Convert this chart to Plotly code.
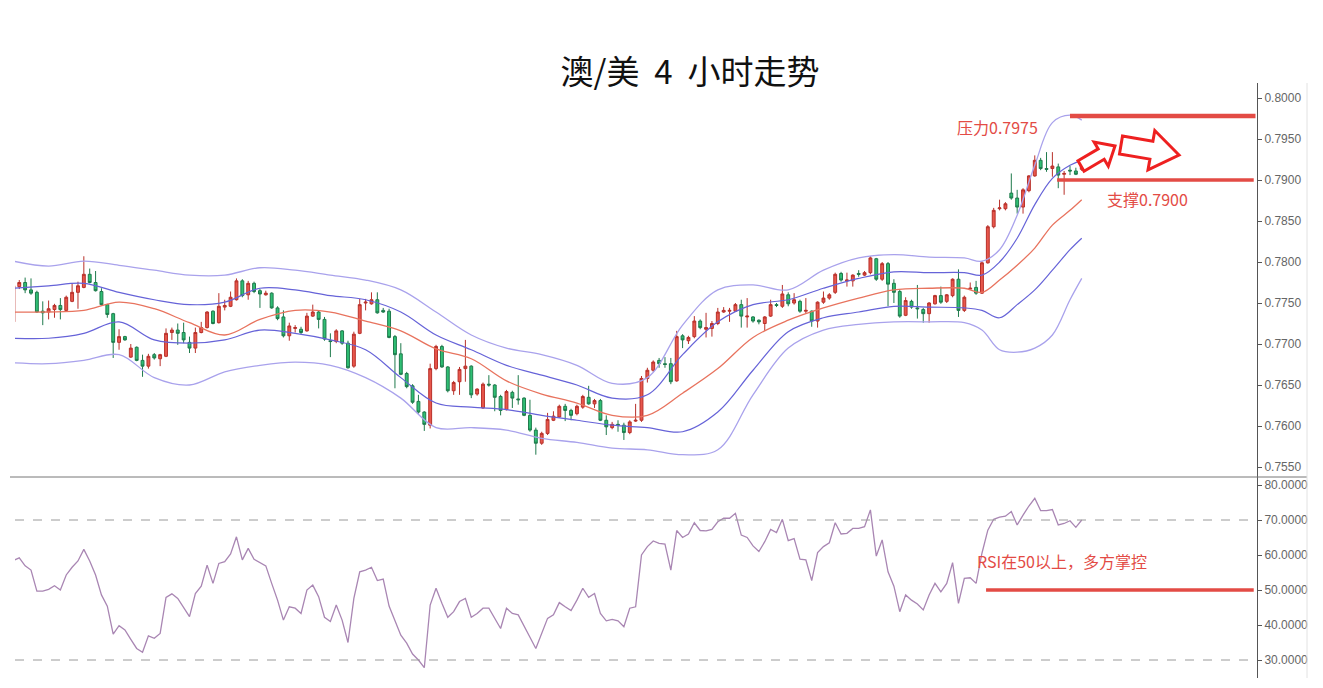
import plotly.graph_objects as go

# ---------------- data ----------------
opens = [0.7727,0.7770,0.7775,0.7766,0.7763,0.7740,0.7739,0.7742,0.7747,0.7741,
         0.7752,0.7763,0.7769,0.7785,0.7775,0.7764,0.7748,0.7737,0.7702,0.7709,
         0.7684,0.7696,0.7680,0.7673,0.7687,0.7682,0.7685,0.7714,0.7717,0.7714,
         0.7702,0.7695,0.7714,0.7720,0.7740,0.7726,0.7745,0.7746,0.7754,0.7777,
         0.7760,0.7774,0.7765,0.7760,0.7762,0.7744,0.7733,0.7710,0.7719,0.7718,
         0.7716,0.7734,0.7739,0.7730,0.7704,0.7703,0.7716,0.7701,0.7673,0.7713,
         0.7750,0.7749,0.7754,0.7741,0.7740,0.7709,0.7688,0.7664,0.7649,0.7630,
         0.7617,0.7601,0.7670,0.7697,0.7672,0.7643,0.7654,0.7670,0.7673,0.7639,
         0.7622,0.7651,0.7650,0.7636,0.7620,0.7641,0.7633,0.7634,0.7613,0.7595,
         0.7579,0.7591,0.7607,0.7611,0.7624,0.7619,0.7615,0.7623,0.7635,0.7627,
         0.7631,0.7607,0.7598,0.7602,0.7601,0.7592,0.7606,0.7607,0.7658,0.7668,
         0.7680,0.7676,0.7676,0.7655,0.7710,0.7704,0.7709,0.7728,0.7718,0.7719,
         0.7725,0.7739,0.7740,0.7740,0.7748,0.7733,0.7733,0.7729,0.7725,0.7734,
         0.7748,0.7746,0.7760,0.7750,0.7752,0.7740,0.7740,0.7728,0.7751,0.7756,
         0.7763,0.7786,0.7777,0.7777,0.7786,0.7784,0.7787,0.7804,0.7779,0.7798,
         0.7774,0.7764,0.7735,0.7752,0.7744,0.7742,0.7737,0.7749,0.7759,0.7752,
         0.7759,0.7779,0.7741,0.7767,0.7769,0.7762,0.7799,0.7843,0.7865,0.7865,
         0.7884,0.7878,0.7867,0.7887,0.7905,0.7924,0.7914,0.7914,0.7916,0.7907,
         0.7912,0.7911,0.7913]
highs = [0.7772,0.7778,0.7781,0.7780,0.7765,0.7752,0.7753,0.7749,0.7756,0.7759,
         0.7774,0.7776,0.7807,0.7792,0.7789,0.7768,0.7749,0.7738,0.7718,0.7710,
         0.7700,0.7697,0.7687,0.7688,0.7689,0.7688,0.7719,0.7720,0.7725,0.7726,
         0.7709,0.7720,0.7727,0.7740,0.7741,0.7762,0.7754,0.7764,0.7780,0.7779,
         0.7777,0.7776,0.7767,0.7765,0.7763,0.7746,0.7741,0.7726,0.7723,0.7721,
         0.7738,0.7748,0.7741,0.7733,0.7713,0.7718,0.7717,0.7704,0.7715,0.7755,
         0.7755,0.7763,0.7763,0.7744,0.7743,0.7711,0.7701,0.7666,0.7651,0.7638,
         0.7618,0.7676,0.7699,0.7699,0.7673,0.7655,0.7672,0.7705,0.7674,0.7646,
         0.7653,0.7662,0.7651,0.7638,0.7644,0.7643,0.7662,0.7635,0.7632,0.7598,
         0.7593,0.7616,0.7618,0.7626,0.7627,0.7621,0.7626,0.7638,0.7649,0.7633,
         0.7633,0.7613,0.7605,0.7607,0.7604,0.7607,0.7627,0.7661,0.7671,0.7680,
         0.7683,0.7684,0.7683,0.7716,0.7712,0.7710,0.7734,0.7730,0.7738,0.7728,
         0.7744,0.7745,0.7744,0.7750,0.7754,0.7756,0.7734,0.7730,0.7734,0.7754,
         0.7750,0.7772,0.7763,0.7762,0.7754,0.7756,0.7741,0.7752,0.7764,0.7762,
         0.7787,0.7788,0.7787,0.7785,0.7790,0.7789,0.7807,0.7805,0.7800,0.7800,
         0.7779,0.7766,0.7757,0.7754,0.7772,0.7744,0.7751,0.7760,0.7770,0.7761,
         0.7780,0.7791,0.7759,0.7775,0.7777,0.7801,0.7845,0.7866,0.7876,0.7873,
         0.7908,0.7888,0.7890,0.7906,0.7930,0.7927,0.7934,0.7934,0.7920,0.7911,
         0.7917,0.7915,0.7918]
lows = [0.7727,0.7767,0.7762,0.7760,0.7738,0.7723,0.7730,0.7732,0.7730,0.7740,
        0.7751,0.7743,0.7768,0.7774,0.7764,0.7747,0.7732,0.7683,0.7693,0.7704,
        0.7683,0.7679,0.7660,0.7670,0.7681,0.7673,0.7684,0.7705,0.7699,0.7701,
        0.7689,0.7689,0.7713,0.7719,0.7724,0.7725,0.7741,0.7745,0.7753,0.7757,
        0.7754,0.7762,0.7744,0.7759,0.7743,0.7729,0.7708,0.7704,0.7714,0.7712,
        0.7715,0.7733,0.7719,0.7704,0.7684,0.7701,0.7699,0.7670,0.7671,0.7712,
        0.7741,0.7748,0.7737,0.7738,0.7707,0.7646,0.7662,0.7646,0.7627,0.7615,
        0.7594,0.7597,0.7668,0.7671,0.7641,0.7638,0.7638,0.7654,0.7634,0.7637,
        0.7621,0.7648,0.7618,0.7613,0.7619,0.7622,0.7626,0.7612,0.7593,0.7565,
        0.7577,0.7589,0.7606,0.7610,0.7606,0.7607,0.7613,0.7621,0.7626,0.7622,
        0.7606,0.7589,0.7596,0.7593,0.7583,0.7590,0.7605,0.7605,0.7653,0.7666,
        0.7671,0.7671,0.7651,0.7654,0.7695,0.7700,0.7707,0.7718,0.7708,0.7709,
        0.7723,0.7738,0.7727,0.7739,0.7720,0.7720,0.7726,0.7724,0.7716,0.7733,
        0.7745,0.7744,0.7746,0.7748,0.7738,0.7737,0.7721,0.7720,0.7749,0.7754,
        0.7761,0.7776,0.7770,0.7770,0.7782,0.7783,0.7785,0.7777,0.7777,0.7746,
        0.7750,0.7732,0.7734,0.7743,0.7731,0.7726,0.7726,0.7748,0.7749,0.7750,
        0.7757,0.7733,0.7739,0.7767,0.7760,0.7761,0.7798,0.7841,0.7863,0.7863,
        0.7876,0.7859,0.7859,0.7885,0.7904,0.7912,0.7910,0.7904,0.7890,0.7882,
        0.7906,0.7906,0.7911]
closes = [0.7771,0.7775,0.7766,0.7762,0.7739,0.7738,0.7743,0.7747,0.7742,0.7757,
          0.7763,0.7771,0.7785,0.7775,0.7765,0.7748,0.7736,0.7702,0.7709,0.7705,
          0.7695,0.7680,0.7673,0.7685,0.7683,0.7687,0.7713,0.7717,0.7713,0.7705,
          0.7695,0.7714,0.7720,0.7739,0.7725,0.7746,0.7747,0.7757,0.7777,0.7759,
          0.7774,0.7764,0.7761,0.7762,0.7744,0.7731,0.7710,0.7722,0.7720,0.7714,
          0.7734,0.7739,0.7730,0.7706,0.7703,0.7716,0.7701,0.7671,0.7712,0.7748,
          0.7751,0.7754,0.7738,0.7739,0.7708,0.7687,0.7663,0.7648,0.7629,0.7617,
          0.7602,0.7670,0.7697,0.7672,0.7643,0.7653,0.7669,0.7673,0.7638,0.7645,
          0.7651,0.7650,0.7635,0.7619,0.7642,0.7634,0.7632,0.7613,0.7595,0.7579,
          0.7591,0.7608,0.7612,0.7624,0.7619,0.7613,0.7624,0.7636,0.7627,0.7631,
          0.7607,0.7599,0.7602,0.7601,0.7592,0.7605,0.7607,0.7658,0.7668,0.7678,
          0.7676,0.7675,0.7654,0.7709,0.7705,0.7708,0.7728,0.7720,0.7720,0.7725,
          0.7739,0.7741,0.7741,0.7748,0.7734,0.7734,0.7728,0.7727,0.7733,0.7748,
          0.7747,0.7761,0.7749,0.7754,0.7740,0.7741,0.7728,0.7751,0.7756,0.7760,
          0.7785,0.7778,0.7778,0.7784,0.7785,0.7787,0.7805,0.7779,0.7798,0.7773,
          0.7763,0.7734,0.7753,0.7745,0.7743,0.7737,0.7750,0.7759,0.7751,0.7760,
          0.7779,0.7741,0.7757,0.7768,0.7762,0.7799,0.7843,0.7863,0.7866,0.7871,
          0.7878,0.7867,0.7888,0.7905,0.7924,0.7914,0.7913,0.7917,0.7906,0.7908,
          0.7911,0.7907,0.7917]

# Bollinger bands, read at every 6th candle (plus the right end)
band_idx = [0, 6, 12, 18, 24, 30, 36, 42, 48, 54, 60, 66, 72, 78, 84, 90, 96, 102,
            108, 114, 120, 126, 132, 138, 144, 150, 156, 162, 165, 168, 171, 174,
            177, 180, 182]
band_upper_outer = [0.7801,0.7795,0.7801,0.7796,0.7790,0.7784,0.7784,0.7793,0.7790,
                    0.7784,0.7778,0.7766,0.7739,0.7711,0.7695,0.7687,0.7674,0.7652,
                    0.7659,0.7723,0.7766,0.7772,0.7766,0.7790,0.7805,0.7809,0.7806,
                    0.7805,0.7801,0.7815,0.7857,0.7918,0.7970,0.7979,0.7973]
band_upper_inner = [0.7768,0.7771,0.7774,0.7763,0.7754,0.7748,0.7751,0.7768,0.7766,
                    0.7759,0.7754,0.7739,0.7711,0.7693,0.7674,0.7662,0.7650,0.7634,
                    0.7638,0.7687,0.7727,0.7748,0.7754,0.7768,0.7780,0.7788,0.7787,
                    0.7787,0.7784,0.7800,0.7829,0.7870,0.7902,0.7918,0.7924]
band_middle = [0.7739,0.7739,0.7741,0.7751,0.7743,0.7726,0.7711,0.7730,0.7741,
               0.7739,0.7728,0.7716,0.7694,0.7682,0.7655,0.7639,0.7628,0.7613,
               0.7613,0.7640,0.7670,0.7708,0.7729,0.7744,0.7756,0.7766,0.7768,
               0.7768,0.7763,0.7778,0.7796,0.7817,0.7845,0.7863,0.7876]
band_lower_inner = [0.7707,0.7707,0.7713,0.7727,0.7705,0.7701,0.7705,0.7717,0.7713,
                    0.7705,0.7693,0.7659,0.7628,0.7623,0.7620,0.7613,0.7607,0.7601,
                    0.7598,0.7593,0.7617,0.7668,0.7715,0.7732,0.7739,0.7746,0.7745,
                    0.7744,0.7741,0.7732,0.7748,0.7766,0.7790,0.7815,0.7829]
band_lower_outer = [0.7677,0.7676,0.7680,0.7687,0.7659,0.7650,0.7666,0.7674,0.7678,
                    0.7674,0.7659,0.7634,0.7598,0.7598,0.7595,0.7585,0.7580,0.7573,
                    0.7571,0.7565,0.7571,0.7638,0.7695,0.7717,0.7724,0.7727,0.7727,
                    0.7726,0.7717,0.7693,0.7690,0.7695,0.7711,0.7754,0.7780]

rsi = [58.4,59.2,56.9,55.7,49.7,49.7,50.2,51.2,50.0,54.3,
       56.5,58.3,61.6,58.3,54.3,48.6,45.4,37.4,39.8,38.6,
       35.9,33.3,32.2,36.9,36.2,37.6,47.9,48.9,47.6,44.8,
       42.4,49.0,51.1,57.1,51.9,57.6,58.1,60.3,65.2,58.6,
       61.9,58.8,57.8,56.9,51.9,47.1,41.4,45.2,44.8,43.3,
       50.0,51.4,48.1,42.2,41.0,45.7,41.4,35.0,47.6,55.2,
       55.7,56.5,52.7,53.1,45.4,41.0,37.1,34.8,31.7,30.0,
       27.8,45.7,50.5,46.2,42.2,43.8,46.7,47.6,42.2,43.3,
       44.8,44.8,41.9,39.0,44.8,43.3,42.9,39.5,36.5,33.3,
       37.6,41.9,42.9,46.4,45.2,44.1,47.1,50.5,47.9,49.0,
       43.3,41.2,41.6,41.2,39.5,44.8,45.2,60.0,62.4,64.0,
       63.3,63.1,55.7,67.0,65.0,66.0,69.2,67.0,66.9,67.3,
       69.5,70.5,70.5,71.9,65.7,65.0,62.6,61.0,63.8,67.3,
       66.4,70.2,64.1,64.7,58.8,58.6,52.7,60.7,62.4,63.5,
       69.2,66.0,66.2,67.6,67.6,68.1,72.9,59.7,64.3,55.2,
       51.1,43.8,48.6,47.1,46.0,44.3,48.6,51.9,49.5,51.9,
       57.8,46.2,53.3,53.5,51.9,60.5,67.1,70.2,70.8,71.1,
       72.4,68.6,71.4,74.0,76.2,72.7,72.7,73.0,68.6,69.0,
       69.8,67.9,70.0]

price_ticks = [0.7550, 0.7600, 0.7650, 0.7700, 0.7750, 0.7800, 0.7850, 0.7900, 0.7950, 0.8000]
rsi_ticks = [30, 40, 50, 60, 70, 80]

title_text = "澳/美\u00a0\u00a04\u00a0\u00a0小时走势"
resistance_level = 0.7978
resistance_label = "压力0.7975"
support_level = 0.7900
support_label = "支撑0.7900"
rsi_level = 50
rsi_label = "RSI在50以上，多方掌控"

x = list(range(len(closes)))

# ---------------- layout helpers (page pixel -> figure) ----------------
OFF = 8                      # page body margin in the browser
W, H = 1323 - OFF, 688 - OFF
PL, PR, PT, PB = 15, 1257, 83, 678   # page pixel positions of plot area
SEP = 477


def px(xp):
    return (xp - PL) / (PR - PL)


def py(yp):
    return (PB - yp) / (PB - PT)


RED = "#e34b45"
fig = go.Figure()

band_styles = [
    (band_upper_outer, "#a9a2ec", 1.3),
    (band_upper_inner, "#6663d8", 1.2),
    (band_middle, "#e8735e", 1.3),
    (band_lower_inner, "#6663d8", 1.2),
    (band_lower_outer, "#a9a2ec", 1.3),
]
for vals, col, w in band_styles:
    fig.add_trace(go.Scatter(x=band_idx, y=vals, mode="lines",
                             line=dict(color=col, width=w, shape="spline", smoothing=1.0),
                             xaxis="x", yaxis="y", hoverinfo="skip", showlegend=False))

fig.add_trace(go.Candlestick(
    x=x, open=opens, high=highs, low=lows, close=closes,
    increasing=dict(line=dict(color="#b8302a", width=1), fillcolor="#e8574c"),
    decreasing=dict(line=dict(color="#1f7a4c", width=1), fillcolor="#2fbf74"),
    whiskerwidth=0, xaxis="x", yaxis="y", showlegend=False))

fig.add_trace(go.Scatter(x=x, y=rsi, mode="lines",
                         line=dict(color="#a986b3", width=1.3),
                         xaxis="x2", yaxis="y2", hoverinfo="skip", showlegend=False))

xr = [(PL - 13.4) / 5.87, (PR - 13.4) / 5.87]
dom_split = (PB - SEP) / (PB - PT)
axis_font = dict(family="Liberation Sans, Arial, sans-serif", size=12, color="#666666")

fig.update_layout(
    width=W, height=H,
    margin=dict(l=PL - OFF, r=1323 - PR, t=PT - OFF, b=688 - PB),
    paper_bgcolor="white", plot_bgcolor="white",
    title=dict(text=title_text, x=(690 - OFF) / W, xanchor="center",
               y=1 - (72 - OFF) / H, yanchor="middle",
               font=dict(family="Noto Sans CJK SC", size=33, color="#111111")),
    xaxis=dict(domain=[0, 1], range=xr, visible=False, rangeslider=dict(visible=False),
               anchor="y"),
    yaxis=dict(domain=[dom_split, 1], range=[0.8 - (SEP - 98) / 8200, 0.8 + 15 / 8200],
               side="right", anchor="x", showgrid=False, zeroline=False,
               tickvals=price_ticks, tickformat=".4f", ticks="outside", ticklen=4,
               tickcolor="#555555", showline=True, linecolor="#555555", linewidth=1,
               tickfont=axis_font),
    xaxis2=dict(domain=[0, 1], range=xr, visible=False, anchor="y2", matches="x"),
    yaxis2=dict(domain=[0, dom_split], range=[80 - (PB - 485) / 3.5, 80 - (SEP - 485) / 3.5],
                side="right", anchor="x2", showgrid=False, zeroline=False,
                tickvals=rsi_ticks, tickformat=".4f", ticks="outside", ticklen=4,
                tickcolor="#555555", showline=True, linecolor="#555555", linewidth=1,
                tickfont=axis_font),
    showlegend=False,
)

shapes = []
# panel separator and right frame
shapes.append(dict(type="line", xref="paper", yref="paper", x0=px(10), x1=px(1307),
                   y0=py(SEP), y1=py(SEP), line=dict(color="#777777", width=1)))
shapes.append(dict(type="line", xref="paper", yref="paper", x0=px(1307), x1=px(1307),
                   y0=py(PT), y1=py(PB), line=dict(color="#e2e2e2", width=1)))
# RSI 70 / 30 dashed guides
for lvl in (70, 30):
    shapes.append(dict(type="line", xref="paper", yref="y2", x0=0, x1=1, y0=lvl, y1=lvl,
                       line=dict(color="#9a9a9a", width=1, dash="dash")))
# resistance / support / RSI-50 lines
shapes.append(dict(type="line", xref="x", yref="y", x0=180.0, x1=211.6,
                   y0=resistance_level, y1=resistance_level, line=dict(color=RED, width=4.5)))
shapes.append(dict(type="line", xref="x", yref="y", x0=177.8, x1=211.3,
                   y0=support_level, y1=support_level, line=dict(color=RED, width=3.5)))
shapes.append(dict(type="line", xref="x2", yref="y2", x0=165.7, x1=211.3,
                   y0=rsi_level, y1=rsi_level, line=dict(color=RED, width=3.5)))


def arrow_path(pts):
    return "M " + " L ".join(f"{px(a):.5f},{py(b):.5f}" for a, b in pts) + " Z"


arrow1 = [(1084.0, 171.2), (1104.2, 159.3), (1108.3, 166.2), (1115.0, 146.0),
          (1094.1, 142.0), (1098.2, 148.9), (1078.0, 160.8)]
arrow2 = [(1119.5, 153.9), (1149.9, 159.1), (1148.0, 169.9), (1179.0, 155.0),
          (1154.8, 130.5), (1152.9, 141.3), (1122.5, 136.1)]
for a in (arrow1, arrow2):
    shapes.append(dict(type="path", xref="paper", yref="paper", path=arrow_path(a),
                       fillcolor="white", line=dict(color="#ee2020", width=3)))
fig.update_layout(shapes=shapes)

ann_font = dict(family="Noto Sans CJK SC", size=16, color=RED)
fig.add_annotation(xref="paper", yref="paper", x=px(997), y=py(127), text=resistance_label,
                   showarrow=False, font=ann_font, xanchor="center", yanchor="middle")
fig.add_annotation(xref="paper", yref="paper", x=px(1147), y=py(199), text=support_label,
                   showarrow=False, font=ann_font, xanchor="center", yanchor="middle")
fig.add_annotation(xref="paper", yref="paper", x=px(1062), y=py(561), text=rsi_label,
                   showarrow=False, font=dict(family="Noto Sans CJK SC", size=16, color=RED),
                   xanchor="center", yanchor="middle")

fig.write_html("out.html")
